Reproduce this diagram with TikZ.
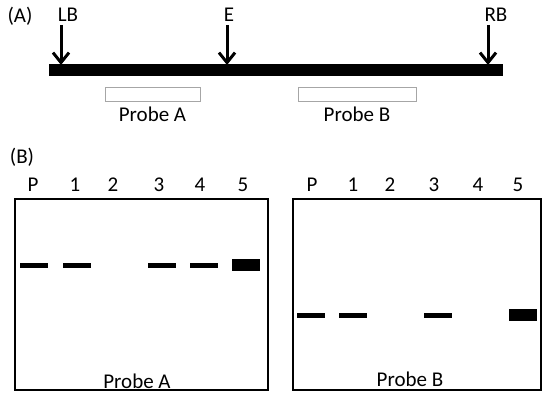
\documentclass[tikz,border=0pt]{standalone}
\usepackage{fontspec}
\setmainfont{Carlito}
\usetikzlibrary{arrows.meta,positioning}

\begin{document}
\begin{tikzpicture}[x=1pt,y=-1pt,>={Straight Barb[length=10pt,width=16pt]},
    lbl/.style={font=\fontsize{21}{23}\selectfont,inner sep=1pt},
    site arrow/.style={->,line width=3pt},
    probe box/.style={draw=gray!70,line width=1pt,minimum height=14pt,inner sep=0pt},
    gel/.style={draw,line width=1.6pt,inner sep=0pt,minimum height=191pt},
    band/.style={fill=black,inner sep=0pt,minimum width=28pt,minimum height=5pt},
    heavy band/.style={band,minimum height=12pt}]
\useasboundingbox (0,0) rectangle (543,398);

% (A) map
\node[lbl] (A) at (20,16) {(A)};
\node[fill=black,inner sep=0pt,minimum width=454pt,minimum height=12pt] (bar) at (276,70) {};
\node[lbl] (lb) at (68,15) {LB};
\node[lbl] (e) at (229,15) {E};
\node[lbl] (rb) at (496,15) {RB};
\coordinate (lbtop) at (61,25);
\coordinate (etop) at (227,25);
\coordinate (rbtop) at (488,25);
\coordinate (lbpt) at (61,65);
\coordinate (ept) at (227,65);
\coordinate (rbpt) at (488,65);
\draw[site arrow] (lbtop) -- (lbpt);
\draw[site arrow] (etop) -- (ept);
\draw[site arrow] (rbtop) -- (rbpt);

\node[probe box,minimum width=95pt] (pa) at (152.5,95) {};
\node[probe box,minimum width=118pt] (pb) at (357,95) {};
\node[lbl,below=3pt of pa] (palbl) {Probe A};
\node[lbl,below=3pt of pb] (pblbl) {Probe B};

% (B) blots
\node[lbl] (B) at (22,157) {(B)};
\node[gel,minimum width=253pt] (gelA) at (141.5,294.5) {};
\node[gel,minimum width=248pt] (gelB) at (417,294.5) {};

\node[lbl] (aP) at (33,185) {P};
\node[lbl] (a1) at (75,185) {1};
\node[lbl] (a2) at (113,185) {2};
\node[lbl] (a3) at (159,185) {3};
\node[lbl] (a4) at (200,185) {4};
\node[lbl] (a5) at (243,185) {5};

\node[band] (baP) at (34,265) {};
\node[band] (ba1) at (77,265) {};
\node[band] (ba3) at (162,265) {};
\node[band] (ba4) at (204,265) {};
\node[heavy band] (ba5) at (246,265) {};

\node[lbl] (bP) at (312,185) {P};
\node[lbl] (b1) at (353,185) {1};
\node[lbl] (b2) at (390,185) {2};
\node[lbl] (b3) at (434,185) {3};
\node[lbl] (b4) at (478,185) {4};
\node[lbl] (b5) at (518,185) {5};

\node[band] (bbP) at (310.5,315) {};
\node[band] (bb1) at (352.5,315) {};
\node[band] (bb3) at (437.5,315) {};
\node[heavy band] (bb5) at (522.5,315) {};

\node[lbl] (gelAlbl) at (137,381) {Probe A};
\node[lbl] (gelBlbl) at (410,379) {Probe B};
\end{tikzpicture}
\end{document}
